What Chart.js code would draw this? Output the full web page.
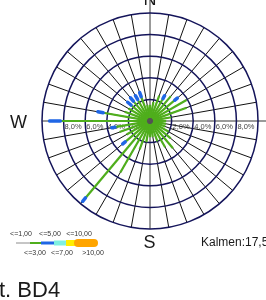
<!DOCTYPE html>
<html>
<head>
<meta charset="utf-8">
<script src="https://cdn.jsdelivr.net/npm/chart.js@4.4.1/dist/chart.umd.min.js"></script>
<style>
  html, body { margin: 0; padding: 0; background: #fff; }
  #wrap { width: 266px; height: 300px; overflow: hidden; }
</style>
</head>
<body>
<div id="wrap"><canvas id="rose" width="266" height="300"></canvas></div>
<script>
// wind directions, degrees clockwise from north
const directions = [0, 10, 20, 30, 40, 50, 60, 70, 80, 90, 100, 110,
  120, 130, 140, 150, 160, 170, 180, 190, 200, 210, 220, 230,
  240, 250, 260, 270, 280, 290, 300, 310, 320, 330, 340, 350];

// frequency in % per speed class (stacked outward)
const speedTo1 = [0.3, 0.3, 0.3, 0.3, 0.3, 0.3, 0.3, 0.3, 0.3, 0.3, 0.3, 0.3,
  0.3, 0.3, 0.3, 0.3, 0.3, 0.3, 0.3, 0.3, 0.3, 0.3, 0.4, 0.3,
  0.3, 0.3, 0.3, 0.4, 0.3, 0.3, 0.3, 0.3, 0.3, 0.3, 0.3, 0.3];
const speedTo3 = [1.2, 1.5, 2.2, 2.1, 2.7, 2.7, 3.6, 3.3, 1.7, 1.2, 1.2, 1.2,
  1.7, 2.2, 3.0, 2.5, 1.7, 1.2, 1.2, 1.7, 2.5, 5.2, 8.9, 2.7,
  2.2, 2.7, 3.0, 7.9, 4.1, 2.2, 2.0, 2.0, 2.1, 2.0, 2.1, 1.2];
const speedTo5 = [0, 0, 0, 0.3, 0, 0.3, 0, 0, 0, 0, 0, 0,
  0, 0, 0, 0, 0, 0, 0, 0, 0, 0, 0.4, 0.3,
  0, 0, 0.3, 1.0, 0.5, 0, 0, 0.4, 0.4, 0.4, 0.4, 0];

const seriesList = [speedTo1, speedTo3, speedTo5];
const seriesColors = ['#555555', '#4fae1c', '#1f66e5'];
const seriesWidths = [1.5, 2.2, 3.5];

// legend classes
const legendLabels = ['<=1,00', '<=3,00', '<=5,00', '<=7,00', '<=10,00', '>10,00'];
const legendColors = ['#8c8c8c', '#4fae1c', '#1f66e5', '#7ff0e0', '#ffee00', '#ffa500'];

const ringTicks = [2, 4, 6, 8, 10];
const calmText = 'Kalmen:17,5';
const titleText = 't. BD4';

function toXY(deg, r) {
  const a = deg * Math.PI / 180;
  return { x: r * Math.sin(a), y: r * Math.cos(a) };
}

// one short line dataset per direction and speed class
const datasets = [];
directions.forEach((deg, i) => {
  let r0 = 0;
  seriesList.forEach((series, s) => {
    const v = series[i];
    if (v > 0) {
      datasets.push({
        data: [toXY(deg, r0), toXY(deg, r0 + v)],
        showLine: true,
        borderColor: seriesColors[s],
        borderWidth: seriesWidths[s],
        borderCapStyle: s === 2 ? 'round' : 'butt',
        pointRadius: 0,
        order: -s
      });
    }
    r0 += v;
  });
});

const roseGrid = {
  id: 'roseGrid',
  beforeDatasetsDraw(chart) {
    const { ctx, scales: { x, y } } = chart;
    const cx = x.getPixelForValue(0);
    const cy = y.getPixelForValue(0);
    const unit = x.getPixelForValue(1) - cx;
    const outer = unit * ringTicks[ringTicks.length - 1];
    ctx.save();
    ctx.fillStyle = '#fff';
    ctx.fillRect(0, 0, chart.width, chart.height);

    // spokes every 10 degrees
    ctx.strokeStyle = '#111';
    ctx.lineWidth = 1;
    directions.forEach(deg => {
      if (deg % 90 === 0) return;
      const p = toXY(deg, ringTicks[ringTicks.length - 1]);
      ctx.beginPath();
      ctx.moveTo(cx, cy);
      ctx.lineTo(x.getPixelForValue(p.x), y.getPixelForValue(p.y));
      ctx.stroke();
    });

    // main cross
    ctx.strokeStyle = '#7a7a7a';
    ctx.lineWidth = 1.5;
    ctx.beginPath();
    ctx.moveTo(cx, 0);
    ctx.lineTo(cx, cy + outer);
    ctx.moveTo(cx - outer, cy);
    ctx.lineTo(chart.width, cy);
    ctx.stroke();

    // rings
    ctx.strokeStyle = '#14145a';
    ctx.lineWidth = 1.5;
    ringTicks.forEach(t => {
      ctx.beginPath();
      ctx.arc(cx, cy, unit * t, 0, Math.PI * 2);
      ctx.stroke();
    });

    // ring labels
    ctx.fillStyle = '#444';
    ctx.font = '7.5px Arial, "Liberation Sans", sans-serif';
    ctx.textAlign = 'left';
    ctx.textBaseline = 'top';
    ringTicks.slice(0, -1).forEach(t => {
      const txt = t + ',0%';
      ctx.fillText(txt, x.getPixelForValue(t) + 1, cy + 2.5);
      ctx.fillText(txt, x.getPixelForValue(-t) + 1, cy + 2.5);
    });
    ctx.restore();
  },
  afterDraw(chart) {
    const { ctx } = chart;
    ctx.save();
    ctx.fillStyle = '#1a1a1a';
    ctx.textBaseline = 'alphabetic';
    ctx.font = '18px Arial, "Liberation Sans", sans-serif';
    ctx.textAlign = 'center';
    ctx.fillText('N', 150, 5);
    ctx.fillText('W', 18.5, 128);
    ctx.fillText('S', 149.5, 248);
    ctx.textAlign = 'left';
    ctx.fillText('E', 265, 128);

    ctx.font = '12px Arial, "Liberation Sans", sans-serif';
    ctx.fillText(calmText, 201, 246);

    ctx.font = '22px Arial, "Liberation Sans", sans-serif';
    ctx.fillText(titleText, -1, 297);

    // speed legend
    const segX = [16, 30, 41, 54, 66, 78, 98];
    const segW = [1, 2, 3, 5, 6, 8];
    const barY = 243;
    legendColors.forEach((c, i) => {
      ctx.strokeStyle = c;
      ctx.lineWidth = segW[i];
      ctx.lineCap = i === 5 ? 'round' : 'butt';
      ctx.beginPath();
      ctx.moveTo(segX[i], barY);
      ctx.lineTo(i === 5 ? segX[i + 1] - 4 : segX[i + 1], barY);
      ctx.stroke();
    });
    ctx.fillStyle = '#333';
    ctx.font = '7px Arial, "Liberation Sans", sans-serif';
    ctx.textAlign = 'center';
    const labelX = [21, 35, 50, 62, 79, 93];
    legendLabels.forEach((t, i) => {
      const up = i % 2 === 0;
      ctx.textBaseline = 'middle';
      ctx.fillText(t, labelX[i], up ? 234 : 253);
    });
    ctx.restore();
  }
};

new Chart(document.getElementById('rose'), {
  type: 'scatter',
  data: { datasets: datasets },
  options: {
    responsive: false,
    animation: false,
    layout: { padding: 0 },
    plugins: { legend: { display: false }, tooltip: { enabled: false } },
    scales: {
      x: { display: false, min: -13.89, max: 10.74 },
      y: { display: false, min: -16.57, max: 11.2 }
    }
  },
  plugins: [roseGrid]
});
</script>
</body>
</html>
